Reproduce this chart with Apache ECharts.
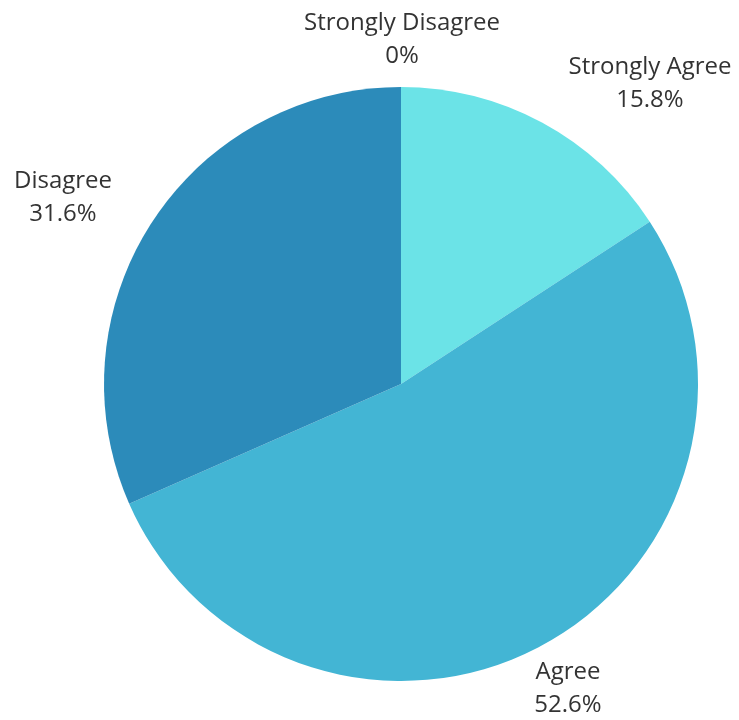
<!DOCTYPE html>
<html>
<head>
<meta charset="utf-8">
<script src="https://cdn.jsdelivr.net/npm/echarts@6/dist/echarts.min.js"></script>
<style>
html,body{margin:0;padding:0;background:#fff;}
#chart{width:739px;height:720px;}
</style>
</head>
<body>
<div id="chart"></div>
<script>
const categories = ['Strongly Agree', 'Agree', 'Disagree', 'Strongly Disagree'];
const values = [15.8, 52.6, 31.6, 0];
const colors = ['#6be3e7', '#43b5d4', '#2c8bba', '#1f6f99'];
const labelCenters = [[650, 84], [568, 689], [63, 198], [402, 40]];

const chart = echarts.init(document.getElementById('chart'));
chart.setOption({
  backgroundColor: '#ffffff',
  animation: false,
  series: [{
    type: 'pie',
    center: [401, 384],
    radius: [0, 297],
    startAngle: 90,
    clockwise: true,
    avoidLabelOverlap: false,
    stillShowZeroSum: true,
    data: categories.map((c, i) => ({ name: c, value: values[i], itemStyle: { color: colors[i] } })),
    itemStyle: { borderWidth: 0 },
    label: {
      show: true,
      position: 'outside',
      formatter: p => p.name + '\n' + p.value + '%',
      fontFamily: 'Open Sans',
      fontSize: 24,
      lineHeight: 33,
      color: '#333333',
      align: 'center'
    },
    labelLine: { show: false },
    labelLayout: function (params) {
      const c = labelCenters[params.dataIndex];
      return { x: c[0], y: c[1], align: 'center', verticalAlign: 'middle', hideOverlap: false };
    }
  }]
});
</script>
</body>
</html>
